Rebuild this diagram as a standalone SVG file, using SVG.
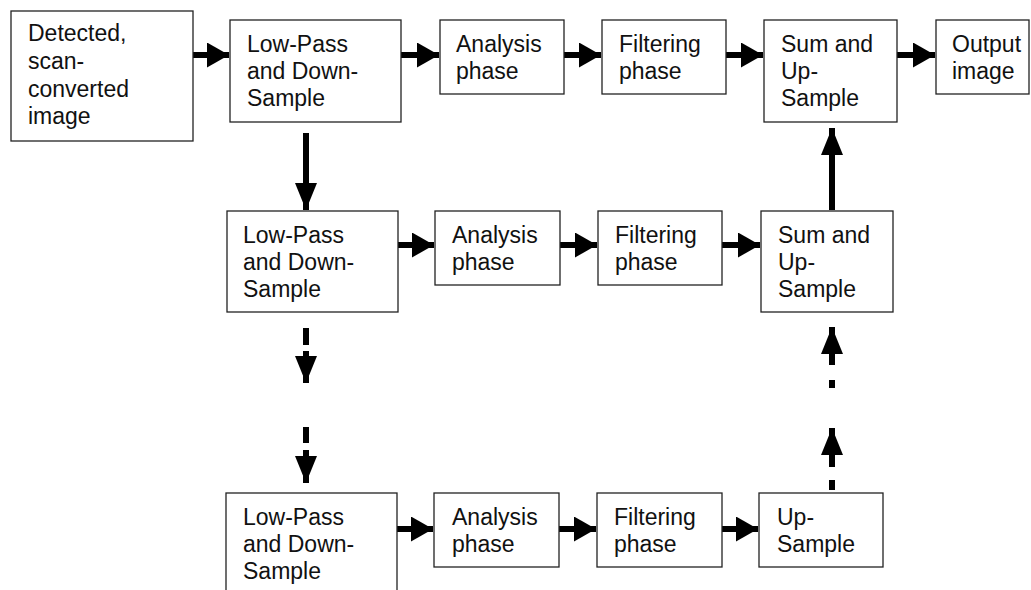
<svg xmlns="http://www.w3.org/2000/svg" width="1031" height="590" viewBox="0 0 1031 590">
<defs>
<style>
.box{fill:#fff;stroke:#222;stroke-width:1.3}
.t{font-family:"Liberation Sans",Arial,sans-serif;font-size:23px;fill:#111}
.sh{stroke:#000;stroke-width:6;fill:none}
</style>
<marker id="ah" markerWidth="22" markerHeight="25" refX="22" refY="12.5" orient="auto" markerUnits="userSpaceOnUse">
<path d="M0,0 L22,12.5 L0,25 Z" fill="#000"/>
</marker>
<marker id="av" markerWidth="27" markerHeight="22" refX="27" refY="11" orient="auto" markerUnits="userSpaceOnUse">
<path d="M0,0 L27,11 L0,22 Z" fill="#000"/>
</marker>
</defs>
<rect width="1031" height="590" fill="#fff"/>

<g id="connectors">
<line class="sh" x1="193" y1="55" x2="229" y2="55" marker-end="url(#ah)"/>
<line class="sh" x1="401" y1="55" x2="439" y2="55" marker-end="url(#ah)"/>
<line class="sh" x1="564" y1="55" x2="601" y2="55" marker-end="url(#ah)"/>
<line class="sh" x1="726" y1="55" x2="763" y2="55" marker-end="url(#ah)"/>
<line class="sh" x1="897" y1="55" x2="935" y2="55" marker-end="url(#ah)"/>
<line class="sh" x1="398" y1="245" x2="434" y2="245" marker-end="url(#ah)"/>
<line class="sh" x1="560" y1="245" x2="597" y2="245" marker-end="url(#ah)"/>
<line class="sh" x1="722" y1="245" x2="760" y2="245" marker-end="url(#ah)"/>
<line class="sh" x1="397" y1="529" x2="433" y2="529" marker-end="url(#ah)"/>
<line class="sh" x1="559" y1="529" x2="596" y2="529" marker-end="url(#ah)"/>
<line class="sh" x1="722" y1="529" x2="758" y2="529" marker-end="url(#ah)"/>
<line class="sh" x1="306" y1="133" x2="306" y2="210" marker-end="url(#av)"/>
<line class="sh" x1="306" y1="328" x2="306" y2="345"/>
<line class="sh" x1="306" y1="351" x2="306" y2="383" marker-end="url(#av)"/>
<line class="sh" x1="306" y1="427" x2="306" y2="443"/>
<line class="sh" x1="306" y1="450" x2="306" y2="483" marker-end="url(#av)"/>
<line class="sh" x1="832" y1="210" x2="832" y2="128" marker-end="url(#av)"/>
<line class="sh" x1="832" y1="490" x2="832" y2="480"/>
<line class="sh" x1="832" y1="467" x2="832" y2="428" marker-end="url(#av)"/>
<line class="sh" x1="832" y1="388" x2="832" y2="380"/>
<line class="sh" x1="832" y1="365" x2="832" y2="327" marker-end="url(#av)"/>
</g>

<g id="n-detected">
<rect class="box" x="11" y="11" width="182" height="130"/>
<text class="t" x="28" y="41">Detected,</text>
<text class="t" x="28" y="69">scan-</text>
<text class="t" x="28" y="97">converted</text>
<text class="t" x="28" y="124">image</text>
</g>
<g id="n-lp1">
<rect class="box" x="230" y="20" width="171" height="102"/>
<text class="t" x="247" y="52">Low-Pass</text>
<text class="t" x="247" y="79">and Down-</text>
<text class="t" x="247" y="106">Sample</text>
</g>
<g id="n-an1">
<rect class="box" x="440" y="20" width="124" height="74"/>
<text class="t" x="456" y="52">Analysis</text>
<text class="t" x="456" y="79">phase</text>
</g>
<g id="n-fi1">
<rect class="box" x="602" y="20" width="124" height="74"/>
<text class="t" x="619" y="52">Filtering</text>
<text class="t" x="619" y="79">phase</text>
</g>
<g id="n-su1">
<rect class="box" x="764" y="20" width="133" height="102"/>
<text class="t" x="781" y="52">Sum and</text>
<text class="t" x="781" y="79">Up-</text>
<text class="t" x="781" y="106">Sample</text>
</g>
<g id="n-out">
<rect class="box" x="936" y="20" width="93" height="74"/>
<text class="t" x="952" y="52">Output</text>
<text class="t" x="952" y="79">image</text>
</g>

<g id="n-lp2">
<rect class="box" x="227" y="211" width="171" height="101"/>
<text class="t" x="243" y="243">Low-Pass</text>
<text class="t" x="243" y="270">and Down-</text>
<text class="t" x="243" y="297">Sample</text>
</g>
<g id="n-an2">
<rect class="box" x="435" y="211" width="125" height="74"/>
<text class="t" x="452" y="243">Analysis</text>
<text class="t" x="452" y="270">phase</text>
</g>
<g id="n-fi2">
<rect class="box" x="598" y="211" width="124" height="74"/>
<text class="t" x="615" y="243">Filtering</text>
<text class="t" x="615" y="270">phase</text>
</g>
<g id="n-su2">
<rect class="box" x="761" y="211" width="132" height="101"/>
<text class="t" x="778" y="243">Sum and</text>
<text class="t" x="778" y="270">Up-</text>
<text class="t" x="778" y="297">Sample</text>
</g>

<g id="n-lp3">
<rect class="box" x="226" y="493" width="171" height="110"/>
<text class="t" x="243" y="525">Low-Pass</text>
<text class="t" x="243" y="552">and Down-</text>
<text class="t" x="243" y="579">Sample</text>
</g>
<g id="n-an3">
<rect class="box" x="434" y="493" width="125" height="74"/>
<text class="t" x="452" y="525">Analysis</text>
<text class="t" x="452" y="552">phase</text>
</g>
<g id="n-fi3">
<rect class="box" x="597" y="493" width="125" height="74"/>
<text class="t" x="614" y="525">Filtering</text>
<text class="t" x="614" y="552">phase</text>
</g>
<g id="n-up3">
<rect class="box" x="759" y="493" width="124" height="74"/>
<text class="t" x="777" y="525">Up-</text>
<text class="t" x="777" y="552">Sample</text>
</g>
</svg>
